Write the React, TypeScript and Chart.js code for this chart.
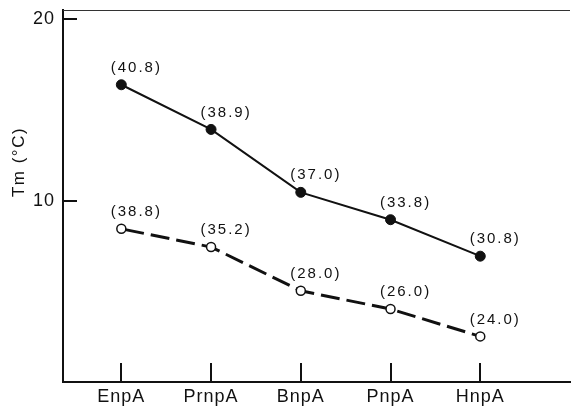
import { useEffect, useRef } from 'react';
import { Chart, registerables } from 'chart.js';

Chart.register(...registerables);

const categories = ['EnpA', 'PrnpA', 'BnpA', 'PnpA', 'HnpA'];
const filledTm = [16.4, 13.95, 10.5, 9.0, 7.0];
const openTm = [8.5, 7.5, 5.1, 4.1, 2.6];
const filledLabels = [40.8, 38.9, 37.0, 33.8, 30.8];
const openLabels = [38.8, 35.2, 28.0, 26.0, 24.0];
const yTicks = [10, 20];
const yTitle = 'Tm (°C)';

const FONT = '"Liberation Sans", Arial, sans-serif';

const decor = {
  id: 'decor',
  beforeDraw(chart: any) {
    chart.ctx.letterSpacing = '1px';
  },
  afterDraw(chart: any) {
    const { ctx, chartArea: a, scales } = chart;
    const x = scales.x;
    const y = scales.y;
    ctx.save();
    ctx.strokeStyle = '#111';
    ctx.lineWidth = 2;
    ctx.beginPath();
    yTicks.forEach((v) => {
      const py = Math.round(y.getPixelForValue(v));
      ctx.moveTo(a.left, py);
      ctx.lineTo(a.left + 14, py);
    });
    categories.forEach((_, i) => {
      const px = Math.round(x.getPixelForValue(i + 1));
      ctx.moveTo(px, a.bottom);
      ctx.lineTo(px, a.bottom - 19);
    });
    ctx.stroke();

    ctx.lineWidth = 1;
    ctx.strokeStyle = '#333';
    ctx.beginPath();
    ctx.moveTo(a.left, a.top + 0.5);
    ctx.lineTo(a.right, a.top + 0.5);
    ctx.stroke();

    ctx.fillStyle = '#111';
    ctx.font = `15px ${FONT}`;
    ctx.letterSpacing = '2px';
    ctx.textAlign = 'center';
    ctx.textBaseline = 'middle';
    const labelSets = [filledLabels, openLabels];
    labelSets.forEach((labels, di) => {
      const meta = chart.getDatasetMeta(di);
      meta.data.forEach((pt: any, i: number) => {
        ctx.fillText(`(${labels[i].toFixed(1)})`, pt.x + 15, pt.y - 17);
      });
    });

    ctx.translate(a.left - 44, a.top + 152);
    ctx.rotate(-Math.PI / 2);
    ctx.font = `17px ${FONT}`;
    ctx.letterSpacing = '1.5px';
    ctx.fillText(yTitle, 0, 0);
    ctx.restore();
  },
};

export default function App() {
  const ref = useRef<HTMLCanvasElement>(null);

  useEffect(() => {
    document.body.style.margin = '0';
    const canvas = ref.current;
    if (!canvas) return;
    const chart = new Chart(canvas, {
      type: 'line',
      data: {
        datasets: [
          {
            data: filledTm.map((v, i) => ({ x: i + 1, y: v })),
            borderColor: '#111',
            borderWidth: 2,
            pointRadius: 5,
            pointBackgroundColor: '#111',
            pointBorderColor: '#111',
            pointBorderWidth: 1,
            tension: 0,
          },
          {
            data: openTm.map((v, i) => ({ x: i + 1, y: v })),
            borderColor: '#111',
            borderWidth: 3,
            borderDash: [19, 7],
            borderDashOffset: -4,
            pointRadius: 4.5,
            pointBackgroundColor: '#fff',
            pointBorderColor: '#111',
            pointBorderWidth: 1.5,
            tension: 0,
          },
        ],
      },
      options: {
        animation: false,
        responsive: false,
        maintainAspectRatio: false,
        devicePixelRatio: 1,
        clip: false as any,
        layout: { padding: { top: 10, left: 0, right: 0, bottom: 0 } },
        plugins: {
          legend: { display: false },
          tooltip: { enabled: false },
          title: { display: false },
        },
        scales: {
          x: {
            type: 'linear',
            min: 0.35,
            max: 6,
            grid: { display: false, drawTicks: false },
            border: { display: true, color: '#111', width: 2 },
            afterBuildTicks: (scale: any) => {
              scale.ticks = categories.map((_, i) => ({ value: i + 1 }));
            },
            afterFit: (scale: any) => {
              scale.height = 24;
              scale.paddingLeft = 0;
              scale.paddingRight = 0;
            },
            ticks: {
              autoSkip: false,
              maxRotation: 0,
              padding: 4,
              color: '#111',
              font: { family: FONT, size: 18 },
              callback: (v: any) => categories[Math.round(v) - 1] ?? '',
            },
          },
          y: {
            type: 'linear',
            min: 0.1,
            max: 20.5,
            grid: { display: false, drawTicks: false },
            border: { display: true, color: '#111', width: 2 },
            afterBuildTicks: (scale: any) => {
              scale.ticks = yTicks.map((v) => ({ value: v }));
            },
            afterFit: (scale: any) => {
              scale.width = 63;
              scale.paddingTop = 0;
              scale.paddingBottom = 0;
            },
            ticks: {
              padding: 8,
              color: '#111',
              font: { family: FONT, size: 18 },
              callback: (v: any) => String(v),
            },
          },
        },
      },
      plugins: [decor],
    });
    return () => chart.destroy();
  }, []);

  return (
    <div style={{ width: 576, height: 406, background: '#fff' }}>
      <canvas ref={ref} width={576} height={406} style={{ display: 'block' }} />
    </div>
  );
}
